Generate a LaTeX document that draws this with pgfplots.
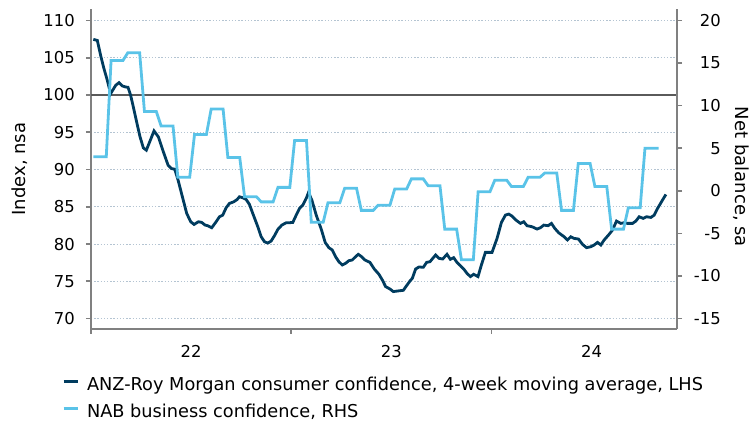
\documentclass[border=0pt]{standalone}
\usepackage{pgfplots}
\pgfplotsset{compat=1.18}
\usepackage{fontspec}
\setmainfont{DejaVu Sans}
\definecolor{anz}{RGB}{0,60,95}
\definecolor{nab}{RGB}{90,195,232}
\definecolor{axgray}{RGB}{128,128,128}
\definecolor{gridc}{RGB}{180,196,210}
\definecolor{refl}{RGB}{90,90,90}

\pgfplotstableread{
t v
0.0115 107.46
0.0315 107.32
0.0482 105.31
0.0648 103.53
0.0815 101.96
0.0982 100.18
0.1232 101.29
0.1398 101.65
0.1565 101.21
0.1732 101.07
0.185 101.03
0.198 99.96
0.2115 98.39
0.228 96.38
0.245 94.38
0.2615 92.9
0.2765 92.59
0.293 93.7
0.3148 95.18
0.3365 94.38
0.3615 92.37
0.385 90.58
0.4015 90.13
0.4182 90.04
0.435 88.57
0.4565 86.34
0.478 84.11
0.498 82.99
0.5148 82.63
0.5365 82.99
0.553 82.9
0.570 82.54
0.583 82.46
0.6032 82.19
0.625 82.99
0.6415 83.66
0.658 83.88
0.675 84.87
0.6915 85.45
0.7132 85.67
0.73 85.98
0.7415 86.34
0.758 86.21
0.775 85.98
0.7915 85.31
0.808 84.11
0.8332 82.32
0.85 80.98
0.8665 80.31
0.883 80.13
0.8998 80.4
0.9165 81.12
0.9332 81.96
0.9532 82.54
0.975 82.86
0.9915 82.86
1.008 82.9
1.025 83.88
1.0415 84.78
1.058 85.22
1.075 86.12
1.0865 86.92
1.1032 85.89
1.125 83.88
1.15 82.0
1.17 80.2
1.1882 79.51
1.205 79.2
1.2215 78.3
1.2382 77.63
1.255 77.19
1.2715 77.41
1.2882 77.77
1.305 77.86
1.3215 78.3
1.335 78.62
1.3515 78.3
1.3682 77.86
1.3932 77.54
1.415 76.65
1.4382 75.94
1.455 75.18
1.4715 74.29
1.4932 73.97
1.51 73.62
1.535 73.71
1.56 73.79
1.5765 74.42
1.5932 75.04
1.605 75.4
1.6215 76.65
1.6382 76.92
1.66 76.88
1.6765 77.54
1.6932 77.63
1.71 78.17
1.7215 78.53
1.7382 78.08
1.7565 77.99
1.778 78.62
1.795 77.95
1.8115 78.17
1.828 77.54
1.845 77.1
1.8615 76.65
1.878 76.07
1.895 75.63
1.9115 75.94
1.933 75.63
1.95 77.19
1.97 78.88
2.0032 78.88
2.0282 80.76
2.05 82.9
2.07 83.88
2.0865 84.02
2.103 83.75
2.123 83.21
2.145 82.77
2.1615 82.99
2.178 82.46
2.203 82.32
2.228 82.01
2.245 82.19
2.2615 82.54
2.283 82.46
2.30 82.77
2.3165 82.1
2.3365 81.5
2.363 80.98
2.38 80.54
2.3965 80.98
2.413 80.76
2.4348 80.67
2.455 79.96
2.475 79.51
2.4965 79.64
2.513 79.87
2.53 80.22
2.5465 79.87
2.563 80.54
2.585 81.21
2.605 81.88
2.6248 83.08
2.6465 82.77
2.663 82.86
2.68 82.77
2.705 82.77
2.7215 83.08
2.738 83.66
2.7582 83.44
2.775 83.66
2.7965 83.57
2.8132 83.88
2.83 84.78
2.8515 85.76
2.8715 86.65
}\anzdata

\pgfplotstableread{
t v
0.0115 4.0
0.0763 4.0
0.1003 15.3
0.1597 15.3
0.1837 16.2
0.2430 16.2
0.2670 9.3
0.3263 9.3
0.3503 7.6
0.4097 7.6
0.4337 1.6
0.4930 1.6
0.5170 6.6
0.5763 6.6
0.6003 9.6
0.6597 9.6
0.6837 3.9
0.7430 3.9
0.7670 -0.7
0.8263 -0.7
0.8503 -1.3
0.9097 -1.3
0.9337 0.4
0.9930 0.4
1.0170 5.9
1.0763 5.9
1.1003 -3.7
1.1597 -3.7
1.1837 -1.4
1.2430 -1.4
1.2670 0.3
1.3263 0.3
1.3503 -2.3
1.4097 -2.3
1.4337 -1.7
1.4930 -1.7
1.5170 0.2
1.5763 0.2
1.6003 1.4
1.6597 1.4
1.6837 0.6
1.7430 0.6
1.7670 -4.5
1.8263 -4.5
1.8503 -8.1
1.9097 -8.1
1.9337 -0.1
1.9930 -0.1
2.0170 1.25
2.0763 1.25
2.1003 0.5
2.1597 0.5
2.1837 1.6
2.2430 1.6
2.2670 2.1
2.3263 2.1
2.3503 -2.3
2.4097 -2.3
2.4337 3.2
2.4930 3.2
2.5170 0.5
2.5763 0.5
2.6003 -4.5
2.6597 -4.5
2.6837 -2.0
2.7430 -2.0
2.7670 5.0
2.8350 5.0
}\nabdata

\begin{document}
\fontsize{12pt}{14pt}\selectfont
\begin{tikzpicture}
\pgfplotsset{
  common/.style={
    scale only axis, width=439.5pt, height=239.8pt,
    xmin=0, xmax=2.927,
    axis line style={axgray, line width=1.2pt, -},
    tick align=outside,
    major tick length=3.75pt,
    tick style={axgray, line width=1.2pt},
    /pgf/number format/assume math mode=true,
    tick label style={font=\fontsize{12.3pt}{14pt}\selectfont},
    label style={font=\fontsize{13.5pt}{15pt}\selectfont},
  }
}
\begin{axis}[common,
  ymin=68.6, ymax=111.5,
  axis x line*=bottom, axis y line*=left,
  ytick={70,75,...,110},
  ymajorgrids,
  grid style={gridc, dash pattern=on 1pt off 1.4pt, line width=0.8pt},
  xtick={0,1,2}, xticklabels={,,},
  extra x ticks={0.5,1.5,2.5}, extra x tick labels={22,23,24},
  extra x tick style={major tick length=0pt, xticklabel style={anchor=north, inner sep=0pt, yshift=-12.4pt}},
  yticklabel style={anchor=east, inner sep=0pt, xshift=-8.25pt},
  ylabel={Index, nsa},
  every axis y label/.style={at={(axis description cs:-0.1126,0.5)}, rotate=90, anchor=base, inner sep=0pt, font=\fontsize{13.5pt}{15pt}\selectfont},
]
\addplot[refl, line width=1pt, forget plot] coordinates {(0,100) (2.927,100)};
\addplot[anz, line width=2.1pt] table[x=t, y=v] {\anzdata};
\end{axis}
\begin{axis}[common,
  ymin=-16.225, ymax=21.3125,
  axis x line=none, axis y line*=right,
  ytick={-15,-10,...,20},
  yticklabel style={anchor=east, inner sep=0pt, xshift=29.25pt},
  ylabel={Net balance, sa},
  every axis y label/.style={at={(axis description cs:1.099,0.4754)}, rotate=-90, anchor=base, inner sep=0pt, font=\fontsize{13.5pt}{15pt}\selectfont},
  legend style={at={(axis description cs:-0.0495,-0.152)}, anchor=north west, draw=none, fill=none, inner sep=0pt,
    font=\fontsize{13.3pt}{15pt}\selectfont, row sep=7.5pt,
    nodes={inner sep=0pt, text height=9.6pt, text depth=3.2pt}},
  legend cell align=left,
  legend image code/.code={\draw[#1, line width=2.1pt] (0pt,3.9pt) -- (10.5pt,3.9pt); \path (0pt,0pt) (16.5pt,0pt);},
]
\addlegendimage{anz, line width=2.1pt}
\addlegendentry{ANZ-Roy Morgan consumer confidence, 4-week moving average, LHS}
\addplot[nab, line width=2.1pt] table[x=t, y=v] {\nabdata};
\addlegendentry{NAB business confidence, RHS}
\end{axis}
\pgfresetboundingbox
\useasboundingbox (-68.25pt,-69pt) rectangle (494.25pt,246.75pt);
\end{tikzpicture}
\end{document}
